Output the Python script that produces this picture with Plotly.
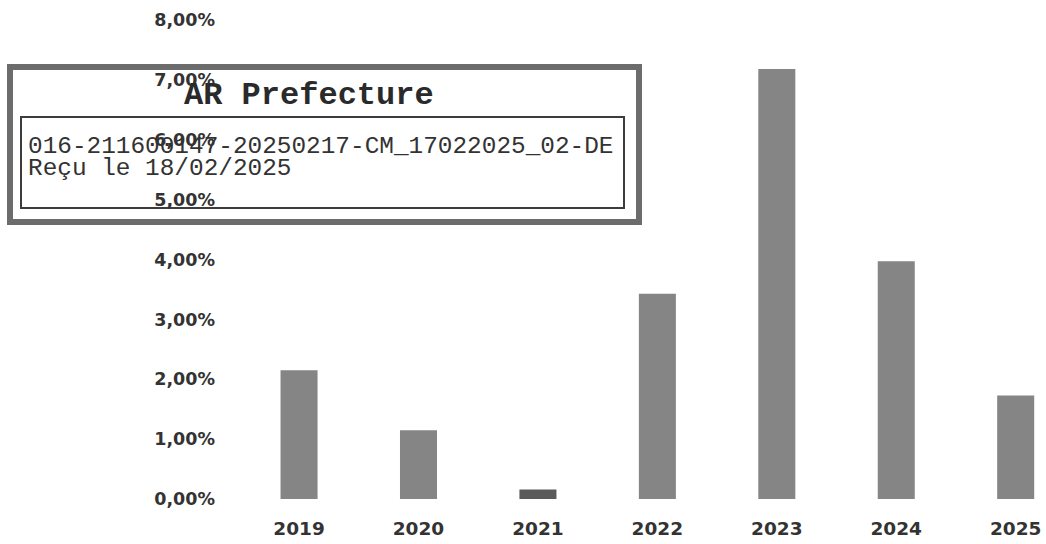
import plotly.graph_objects as go

# Annual rate by year
years = ["2019", "2020", "2021", "2022", "2023", "2024", "2025"]
rates = [0.0215, 0.0115, 0.0016, 0.0343, 0.0718, 0.0397, 0.0173]
bar_colors = ["#858585", "#858585", "#5a5a5a", "#858585", "#858585", "#858585", "#858585"]

# Y-axis tick values
y_ticks = [0, 0.01, 0.02, 0.03, 0.04, 0.05, 0.06, 0.07, 0.08]

# Receipt stamp text
stamp_title = "AR Prefecture"
stamp_lines = ["016-211600147-20250217-CM_17022025_02-DE", "Reçu le 18/02/2025"]

W, H = 1046, 544
M_L, M_R, M_T, M_B = 225, 10, 20, 45
PW, PH = W - M_L - M_R, H - M_T - M_B


def px(x):
    return (x - M_L) / PW


def py(y):
    return (H - M_B - y) / PH


fig = go.Figure(
    go.Bar(
        x=years,
        y=rates,
        marker=dict(color=bar_colors, line=dict(width=0)),
        width=0.31,
    )
)

shapes = [
    dict(type="rect", xref="paper", yref="paper", layer="below",
         x0=px(10), x1=px(639), y0=py(67), y1=py(222),
         line=dict(color="#6c6c6c", width=6), fillcolor="white"),
    dict(type="rect", xref="paper", yref="paper", layer="below",
         x0=px(21), x1=px(624), y0=py(117), y1=py(208),
         line=dict(color="#3c3c3c", width=2), fillcolor="rgba(0,0,0,0)"),
]

annotations = [
    dict(text=f"<b>{stamp_title}</b>", xref="paper", yref="paper",
         x=px(309), y=py(96), xanchor="center", yanchor="middle",
         showarrow=False, font=dict(family="Liberation Mono", size=32, color="#2a2a2a")),
    dict(text=stamp_lines[0], xref="paper", yref="paper",
         x=px(26), y=py(146), xanchor="left", yanchor="middle",
         showarrow=False, font=dict(family="Liberation Mono", size=24.4, color="#333333")),
    dict(text=stamp_lines[1], xref="paper", yref="paper",
         x=px(26), y=py(169), xanchor="left", yanchor="middle",
         showarrow=False, font=dict(family="Liberation Mono", size=24.4, color="#333333")),
]

fig.update_layout(
    width=W, height=H,
    margin=dict(l=M_L, r=M_R, t=M_T, b=M_B),
    paper_bgcolor="white", plot_bgcolor="white",
    separators=", ",
    showlegend=False,
    shapes=shapes,
    annotations=annotations,
    xaxis=dict(
        type="category", range=[-0.62, 6.17], automargin=False,
        showgrid=False, showline=False, zeroline=False,
        ticks="", ticklabelstandoff=16,
        tickfont=dict(family="DejaVu Sans", size=18.5, color="#333333", weight="bold"),
    ),
    yaxis=dict(
        range=[0, 0.08], tickvals=y_ticks, tickformat=".2%", automargin=False,
        showgrid=False, showline=False, zeroline=False,
        ticks="", ticklabelstandoff=9,
        tickfont=dict(family="DejaVu Sans", size=17.5, color="#333333", weight="bold"),
    ),
)

fig.write_html("out.html")
